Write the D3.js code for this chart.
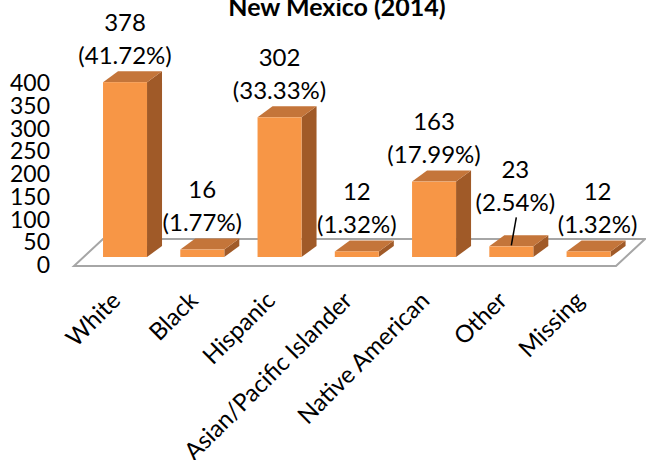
<!DOCTYPE html>
<html>
<head>
<meta charset="utf-8">
<script src="https://cdn.jsdelivr.net/npm/d3@7"></script>
<style>
  html, body { margin: 0; padding: 0; background: #fff; }
  svg { display: block; }
  text { font-family: Lato, "Liberation Sans", sans-serif; fill: #000; }
</style>
</head>
<body>
<svg id="chart" width="646" height="460"></svg>
<script>
// Race/ethnicity counts, New Mexico 2014
const categories = ["White", "Black", "Hispanic", "Asian/Pacific Islander", "Native American", "Other", "Missing"];
const counts = [378, 16, 302, 12, 163, 23, 12];
const yTicks = [0, 50, 100, 150, 200, 250, 300, 350, 400];
const titleText = "New Mexico (2014)";

const total = d3.sum(counts);
const data = categories.map((c, i) => ({ cat: c, value: counts[i], pct: counts[i] / total * 100 }));

const svg = d3.select("#chart");

// Pseudo-3D geometry
const depthX = 15, depthY = -11;       // bar depth
const floorDX = 29, floorDY = -27;     // floor depth
const barBase = 257;                   // front bottom of the bars
const floorFront = 266;

const x = d3.scalePoint().domain(categories).range([86.4, 627.2]).padding(0.5);
const barW = 44;
const y = d3.scaleLinear().domain([0, 400]).range([barBase, 72]);
const yLabel = d3.scaleLinear().domain([0, 400]).range([265, 83]);

const orange = "#F79646", topCol = "#C4753A", sideCol = "#A05A28";
const fs = 24;

// Title
svg.append("text")
  .attr("x", 337).attr("y", 16)
  .attr("text-anchor", "middle")
  .attr("font-weight", "bold")
  .attr("font-size", 25)
  .text(titleText);

// Floor
const fl = 74, fr = 616;
svg.append("polygon")
  .attr("points", [[fl, floorFront], [fr, floorFront], [fr + floorDX, floorFront + floorDY], [fl + floorDX, floorFront + floorDY]].map(p => p.join(",")).join(" "))
  .attr("fill", "#fff")
  .attr("stroke", "#A6A6A6")
  .attr("stroke-width", 2);

// Value axis labels
svg.append("g").selectAll("text")
  .data(yTicks)
  .join("text")
  .attr("x", 50)
  .attr("y", d => yLabel(d))
  .attr("dy", "0.35em")
  .attr("text-anchor", "end")
  .attr("font-size", 23)
  .text(d => d);

// Bars
const bars = svg.append("g").selectAll("g").data(data).join("g");
bars.each(function(d) {
  const g = d3.select(this);
  const x0 = x(d.cat) - barW / 2, x1 = x0 + barW;
  const yt = y(d.value), yb = barBase;
  g.append("polygon")
    .attr("points", [[x1, yt], [x1 + depthX, yt + depthY], [x1 + depthX, yb + depthY], [x1, yb]].map(p => p.join(",")).join(" "))
    .attr("fill", sideCol);
  g.append("polygon")
    .attr("points", [[x0, yt], [x0 + depthX, yt + depthY], [x1 + depthX, yt + depthY], [x1, yt]].map(p => p.join(",")).join(" "))
    .attr("fill", topCol);
  g.append("rect")
    .attr("x", x0).attr("y", yt)
    .attr("width", barW).attr("height", yb - yt)
    .attr("fill", orange);
});

// Data labels (count and share); a couple are nudged to stay clear of neighbours
const nudge = { "Other": [4, -17], "Missing": [9, 0] };
const labels = svg.append("g").selectAll("g").data(data).join("g")
  .attr("transform", d => {
    const n = nudge[d.cat] || [0, 0];
    return `translate(${x(d.cat) + n[0]},${y(d.value) - 27 + n[1]})`;
  });
labels.append("text")
  .attr("text-anchor", "middle").attr("dy", "0.35em")
  .attr("y", -33)
  .attr("font-size", fs)
  .text(d => d.value);
labels.append("text")
  .attr("text-anchor", "middle").attr("dy", "0.35em")
  .attr("font-size", fs)
  .text(d => `(${d.pct.toFixed(2)}%)`);

// Leader line for the displaced label
data.filter(d => nudge[d.cat] && nudge[d.cat][1] < 0).forEach(d => {
  const n = nudge[d.cat];
  svg.append("line")
    .attr("x1", x(d.cat) + n[0] + 1).attr("y1", y(d.value) - 27 + n[1] + 15)
    .attr("x2", x(d.cat)).attr("y2", y(d.value) - 1)
    .attr("stroke", "#000").attr("stroke-width", 1.5);
});

// Category labels
svg.append("g").selectAll("text")
  .data(categories)
  .join("text")
  .attr("transform", d => `translate(${x(d) - 3},${302}) rotate(-45)`)
  .attr("text-anchor", "end")
  .attr("font-size", fs)
  .text(d => d);
</script>
</body>
</html>
